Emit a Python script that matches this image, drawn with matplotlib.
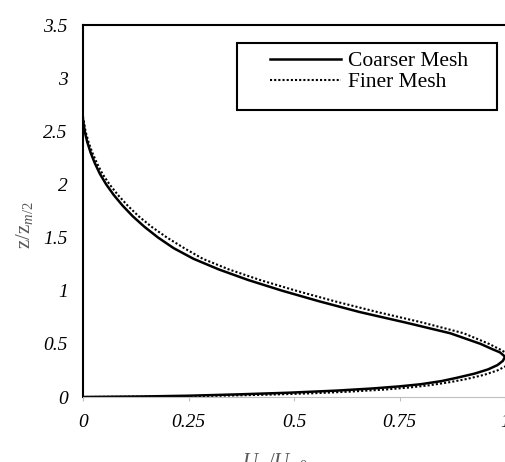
import numpy as np
import matplotlib
matplotlib.use("Agg")
import matplotlib.pyplot as plt
from matplotlib.patches import Rectangle
from matplotlib.font_manager import FontProperties

plt.rcParams['font.family'] = ['Liberation Serif', 'DejaVu Serif']
plt.rcParams['mathtext.fontset'] = 'custom'
plt.rcParams['mathtext.rm'] = 'Liberation Serif'
plt.rcParams['mathtext.it'] = 'Liberation Serif:italic'

# coarser mesh profile (U_m/U_m0, z/z_m/2)
coarse_u = [0.000, 0.004, 0.010, 0.018, 0.028, 0.040, 0.055, 0.073, 0.094, 0.118,
            0.146, 0.178, 0.215, 0.262, 0.322, 0.392, 0.472, 0.560, 0.655, 0.765,
            0.870, 0.942, 0.970, 0.988, 1.000, 0.995, 0.982, 0.960, 0.928, 0.885,
            0.850, 0.800, 0.750, 0.685, 0.600, 0.485, 0.370, 0.250, 0.140, 0.000]
coarse_z = [2.61, 2.50, 2.40, 2.30, 2.20, 2.10, 2.00, 1.90, 1.80, 1.70,
            1.60, 1.50, 1.40, 1.30, 1.20, 1.10, 1.00, 0.90, 0.80, 0.70,
            0.60, 0.50, 0.45, 0.42, 0.38, 0.34, 0.30, 0.26, 0.22, 0.18,
            0.15, 0.12, 0.10, 0.08, 0.06, 0.04, 0.025, 0.012, 0.005, 0.000]

# finer mesh profile
fine_u = [0.000, 0.006, 0.013, 0.022, 0.033, 0.046, 0.063, 0.083, 0.106, 0.132,
          0.163, 0.199, 0.240, 0.284, 0.346, 0.420, 0.505, 0.597, 0.697, 0.805,
          0.902, 0.962, 0.987, 1.005, 1.013, 1.012, 1.002, 0.982, 0.952, 0.910,
          0.870, 0.820, 0.775, 0.715, 0.630, 0.545, 0.440, 0.330, 0.200, 0.000]
fine_z = [2.64, 2.50, 2.40, 2.30, 2.20, 2.10, 2.00, 1.90, 1.80, 1.70,
          1.60, 1.50, 1.40, 1.30, 1.20, 1.10, 1.00, 0.90, 0.80, 0.70,
          0.60, 0.50, 0.45, 0.41, 0.37, 0.33, 0.29, 0.25, 0.21, 0.17,
          0.14, 0.11, 0.09, 0.07, 0.05, 0.035, 0.022, 0.012, 0.005, 0.000]

xticks = [0, 0.25, 0.5, 0.75, 1]
xtick_labels = ['0', '0.25', '0.5', '0.75', '1']
yticks = [0, 0.5, 1, 1.5, 2, 2.5, 3, 3.5]
ytick_labels = ['0', '0.5', '1', '1.5', '2', '2.5', '3', '3.5']

fig = plt.figure(figsize=(5.05, 4.62), dpi=100)
ax = fig.add_axes([83/505, 1 - 397/462, 422/505, 372/462])

ax.plot(coarse_u, coarse_z, color='black', lw=1.8, label='Coarser Mesh')
ax.plot(fine_u, fine_z, color='black', lw=1.5, linestyle=(0, (1, 1)), label='Finer Mesh')

tick_font = FontProperties(family='Liberation Serif', style='italic', size=14)

ax.set_xlim(0, 1)
ax.set_ylim(0, 3.5)
ax.set_xticks(xticks)
ax.set_xticklabels(xtick_labels, fontproperties=tick_font)
ax.set_yticks(yticks)
ax.set_yticklabels(ytick_labels, fontproperties=tick_font)
ax.tick_params(axis='x', direction='out', length=3, width=0.8, color='#bfbfbf', pad=9)
ax.tick_params(axis='y', length=0, pad=11)

for s in ['left', 'top']:
    ax.spines[s].set_color('black')
    ax.spines[s].set_linewidth(1.5)
ax.spines['bottom'].set_color('#bfbfbf')
ax.spines['bottom'].set_linewidth(0.8)
ax.spines['right'].set_visible(False)

ax.set_xlabel(r'$\mathit{U_m/U_{m0}}$', fontsize=15, color='#595959')
ax.xaxis.set_label_coords(0.455, -0.145)
ax.set_ylabel(r'$\mathrm{z/z}_{m/2}$', fontsize=15, color='#595959')
ax.yaxis.set_label_coords(-0.113, 0.462)

# legend box drawn separately so it can be wider than its entries
frame = Rectangle((237/505, 1 - 110/462), 260/505, 67/462, transform=fig.transFigure,
                  facecolor='white', edgecolor='black', lw=1.5, zorder=4)
ax.add_patch(frame)
leg = ax.legend(loc='upper left', bbox_to_anchor=(270/505, 1 - 51/462),
                bbox_transform=fig.transFigure, fontsize=15.5, frameon=False,
                handlelength=3.3, handletextpad=0.3, borderpad=0, labelspacing=0.05,
                borderaxespad=0)
leg.set_zorder(5)

fig.savefig('out.png', dpi=100)
